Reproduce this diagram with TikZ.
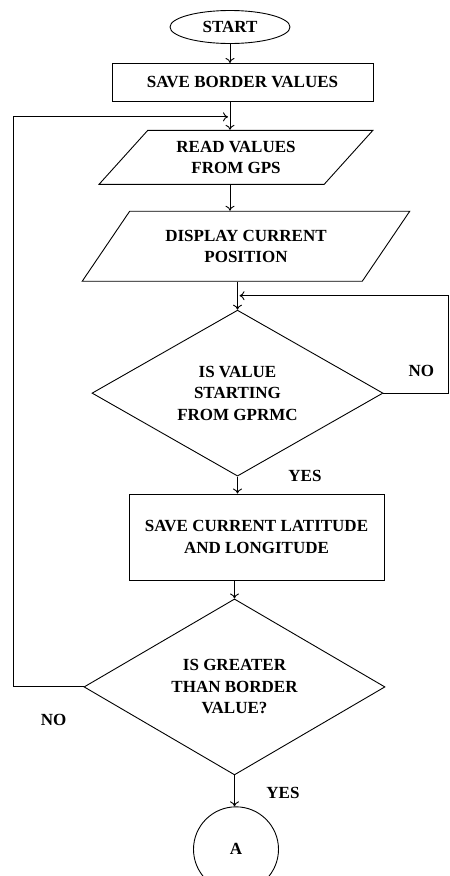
\documentclass[tikz,border=0pt]{standalone}
\usepackage{fontspec}
\setmainfont{Liberation Serif}
\usetikzlibrary{positioning,shapes.geometric,arrows.meta}

\begin{document}
\begin{tikzpicture}[x=1pt,y=1pt,>={To[length=5pt,width=9pt]},
  every node/.style={font=\fontsize{17}{21.5}\selectfont\bfseries,align=center,inner sep=0pt},
  term/.style={ellipse,draw,line width=0.9pt,minimum width=120pt,minimum height=33pt},
  box/.style={rectangle,draw,line width=0.9pt},
  io/.style={trapezium,trapezium left angle=45,trapezium right angle=135,
    trapezium stretches=true,draw,line width=0.9pt},
  decision/.style={diamond,shape aspect=1.75,draw,line width=0.9pt},
  connector/.style={circle,draw,line width=0.9pt,minimum size=85pt},
  arr/.style={->,line width=0.9pt}]
\useasboundingbox (0,0) rectangle (450,-876);

\node[term] (start) at (230,-27) {START};
\node[box,below =19pt of start,xshift=12.5pt,minimum width=261pt,minimum height=38pt] (border) {SAVE BORDER VALUES};
\node[io,below =28pt of border,xshift=-6.5pt,minimum width=274pt,minimum height=54pt] (read) {READ VALUES\\FROM GPS};
\node[io,below =26pt of read,xshift=10pt,minimum width=328pt,minimum height=70pt] (display) {DISPLAY CURRENT\\POSITION};
\node[decision,below =28pt of display,xshift=-8.5pt,minimum width=291pt,minimum height=166pt] (gprmc) {IS VALUE\\STARTING\\FROM GPRMC};
\node[box,below =17pt of gprmc,xshift=19pt,minimum width=255pt,minimum height=86pt] (latlon) {SAVE CURRENT LATITUDE\\AND LONGITUDE};
\node[decision,below =18pt of latlon,xshift=-22pt,minimum width=301pt,minimum height=176pt] (greater) {IS GREATER\\THAN BORDER\\VALUE?};
\node[connector,below =31pt of greater,xshift=1.5pt] (conA) {A};

% branch labels
\node (no1) at ([shift={(38,22)}]gprmc.east) {NO};
\node (yes1) at ([shift={(67.5,1)}]gprmc.south) {YES};
\node (no2) at ([shift={(-30,-33)}]greater.west) {NO};
\node (yes2) at ([shift={(48.5,-18)}]greater.south) {YES};

% loop entry points
\path (border.south -| start) ++(0,-15) coordinate (loop1);
\path (display.south -| gprmc) ++(0,-14) coordinate (loop2);

\draw[arr] (start.south) -- (start.south |- border.north);
\draw[arr] (border.south -| start) -- (read.north -| start);
\draw[arr] (read.south -| start) -- (display.north -| start);
\draw[arr] (display.south -| gprmc) -- (gprmc.north);
\draw[arr] (gprmc.south) -- (gprmc.south |- latlon.north);
\draw[arr] (latlon.south -| greater) -- (greater.north);
\draw[arr] (greater.south) -- (greater.south |- conA.north);
\draw[arr] (greater.west) -- ++(-70,0) |- ([xshift=-2pt]loop1);
\draw[arr] (gprmc.east) -- ++(65,0) |- ([xshift=2pt]loop2);
\end{tikzpicture}
\end{document}
